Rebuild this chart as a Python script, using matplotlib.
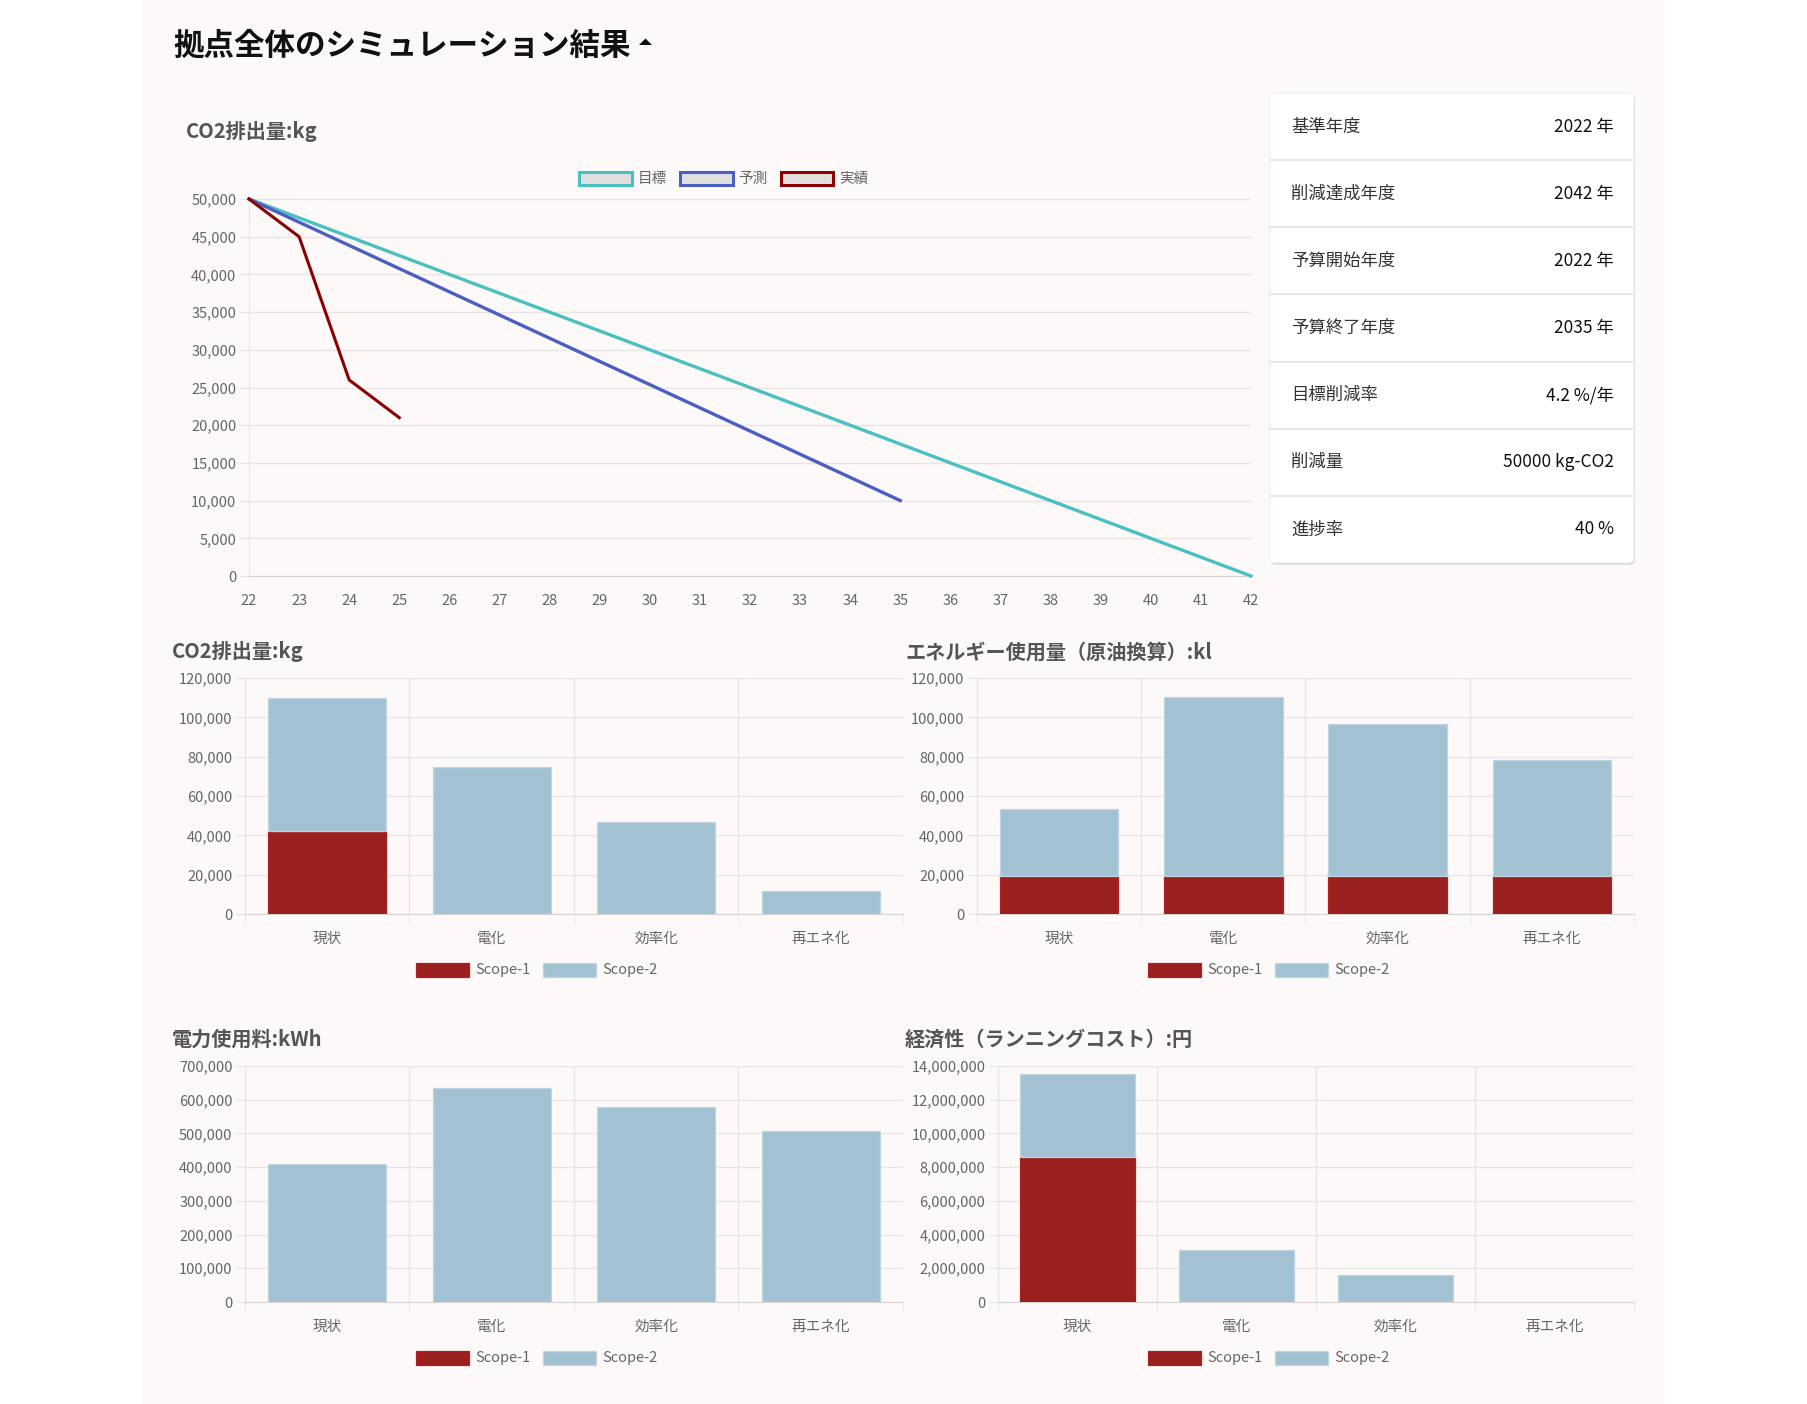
import matplotlib
matplotlib.use("Agg")
import matplotlib.pyplot as plt
import numpy as np
from matplotlib.patches import Rectangle, FancyBboxPatch, Patch, Polygon
from matplotlib.ticker import FuncFormatter, FixedLocator

plt.rcParams['font.family'] = ['Noto Sans CJK JP', 'DejaVu Sans']

# ---- data ----
target_years = [22, 42]
target_vals = [50000, 0]
forecast_years = [22, 35]
forecast_vals = [50000, 10000]
actual_years = [22, 23, 24, 25]
actual_vals = [50000, 45000, 26000, 21000]

table_labels = ['基準年度', '削減達成年度', '予算開始年度', '予算終了年度', '目標削減率', '削減量', '進捗率']
table_values = ['2022 年', '2042 年', '2022 年', '2035 年', '4.2 %/年', '50000 kg-CO2', '40 %']

categories = ['現状', '電化', '効率化', '再エネ化']
co2_s1 = [42000, 0, 0, 0]
co2_s2 = [68000, 75000, 47000, 11500]
energy_s1 = [19500, 19500, 19500, 19500]
energy_s2 = [34000, 91000, 77000, 59000]
kwh_s1 = [0, 0, 0, 0]
kwh_s2 = [408000, 634000, 577000, 506000]
cost_s1 = [8600000, 0, 0, 0]
cost_s2 = [4900000, 3070000, 1600000, 0]

# ---- layout helpers ----
W, H = 1808, 1404
def box(l, t, r, b):
    return [l / W, 1 - b / H, (r - l) / W, (b - t) / H]

def fx(x):
    return x / W

def fy(y):
    return 1 - y / H

GRID = '#e8e5e5'
ZERO = '#d6d3d3'
TICK = '#666666'
TITLE = '#555555'
S1 = '#9a201f'
S1_EDGE = '#b0201f'
S2 = '#a2c2d3'
S2_EDGE = '#c0d6e2'

fig = plt.figure(figsize=(W / 100, H / 100), dpi=100)
fig.patch.set_facecolor('white')
fig.patches.append(Rectangle((fx(142), 0), fx(1664) - fx(142), 1, transform=fig.transFigure,
                             facecolor='#fcf9f8', edgecolor='none', zorder=-10))

# page title + collapse caret
fig.text(fx(173), fy(46), '拠点全体のシミュレーション結果', fontsize=22, fontweight='bold',
         color='#111111', va='center', ha='left')
fig.patches.append(Polygon([(fx(639), fy(45)), (fx(652), fy(45)), (fx(645.5), fy(38.5))], closed=True,
                           transform=fig.transFigure, facecolor='#111111', edgecolor='none'))

fmt = FuncFormatter(lambda v, p: '{:,.0f}'.format(v))

# ---- line chart ----
fig.text(fx(186), fy(132), 'CO2排出量:kg', fontsize=14.5, fontweight='bold', color=TITLE,
         va='center', ha='left')
ax = fig.add_axes(box(249, 199, 1251, 576))
ax.set_facecolor('none')
ax.plot(target_years, target_vals, color='#4bc0c0', lw=2.4, clip_on=False, label='目標', zorder=3)
ax.plot(forecast_years, forecast_vals, color='#4a5fc1', lw=2.4, clip_on=False, label='予測', zorder=3)
ax.plot(actual_years, actual_vals, color='#8b0000', lw=2.2, clip_on=False, label='実績', zorder=4)
ax.set_xlim(22, 42)
ax.set_ylim(0, 50000)
ax.set_xticks(range(22, 43))
ax.set_yticks(range(0, 50001, 5000))
ax.yaxis.set_major_formatter(fmt)
ax.yaxis.grid(True, color=GRID, lw=1)
ax.set_axisbelow(True)
for s in ['top', 'right']:
    ax.spines[s].set_visible(False)
ax.spines['left'].set_color(GRID)
ax.spines['bottom'].set_color(ZERO)
ax.tick_params(axis='y', length=6.5, color=GRID, pad=2.5, labelsize=10.5, labelcolor=TICK)
ax.tick_params(axis='x', length=0, pad=13, labelsize=10.5, labelcolor=TICK)

line_handles = [Patch(facecolor='#e2dfdf', edgecolor=c, lw=2.2) for c in ['#4bc0c0', '#4a5fc1', '#8b0000']]
leg = fig.legend(line_handles, ['目標', '予測', '実績'], loc='center', bbox_to_anchor=(fx(724), fy(179)),
                 ncol=3, frameon=False, fontsize=10.5, handlelength=3.6, handleheight=1.0,
                 handletextpad=0.4, columnspacing=0.9, labelcolor=TICK)

# ---- info card ----
cl, ct, cr, cb = 1270, 93, 1634, 563
fig.patches.append(FancyBboxPatch((fx(cl) + 0.0005, fy(cb) - 0.0012), fx(cr) - fx(cl), fy(ct) - fy(cb),
                                  boxstyle='round,pad=0,rounding_size=0.003', transform=fig.transFigure,
                                  facecolor='#d9d6d6', edgecolor='none', zorder=1))
fig.patches.append(FancyBboxPatch((fx(cl), fy(cb)), fx(cr) - fx(cl), fy(ct) - fy(cb),
                                  boxstyle='round,pad=0,rounding_size=0.003', transform=fig.transFigure,
                                  facecolor='white', edgecolor='#eeeaea', lw=0.6, zorder=2))
row_h = (cb - ct) / len(table_labels)
for i, (lab, val) in enumerate(zip(table_labels, table_values)):
    yc = ct + row_h * (i + 0.5)
    fig.text(fx(1291), fy(yc), lab, fontsize=12.5, color='#333333', va='center', ha='left', zorder=5)
    fig.text(fx(1614), fy(yc), val, fontsize=12.5, color='#111111', va='center', ha='right', zorder=5)
    if i > 0:
        ys = ct + row_h * i
        fig.add_artist(plt.Line2D([fx(cl), fx(cr)], [fy(ys), fy(ys)], transform=fig.transFigure,
                                  color='#e4e1e1', lw=1.2, zorder=4))


# ---- bar charts ----
def bar_chart(title, rect, s1, s2, ymax, step, title_x, title_y, legend_x, legend_y):
    fig.text(fx(title_x), fy(title_y), title, fontsize=14.5, fontweight='bold', color=TITLE,
             va='center', ha='left')
    a = fig.add_axes(box(*rect))
    a.set_facecolor('none')
    x = np.arange(len(categories))
    lw1 = [0.9 if v else 0 for v in s1]
    lw2 = [0.9 if v else 0 for v in s2]
    a.bar(x, s1, width=0.72, color=S1, edgecolor=S1_EDGE, linewidth=lw1, zorder=3)
    a.bar(x, s2, width=0.72, bottom=s1, color=S2, edgecolor=S2_EDGE, linewidth=lw2, zorder=3)
    a.set_xlim(-0.5, len(categories) - 0.5)
    a.set_ylim(0, ymax)
    a.set_yticks(np.arange(0, ymax + 1, step))
    a.yaxis.set_major_formatter(fmt)
    a.set_xticks(x)
    a.set_xticklabels(categories)
    a.xaxis.set_minor_locator(FixedLocator(np.arange(-0.5, len(categories), 1.0)))
    a.yaxis.grid(True, color=GRID, lw=1)
    a.xaxis.grid(True, which='minor', color=GRID, lw=1)
    a.set_axisbelow(True)
    a.spines['top'].set_visible(False)
    a.spines['right'].set_visible(False)
    a.spines['left'].set_color(GRID)
    a.spines['bottom'].set_color(ZERO)
    a.tick_params(axis='y', length=6.5, color=GRID, pad=2.5, labelsize=10.5, labelcolor=TICK)
    a.tick_params(axis='x', which='major', length=0, pad=12.5, labelsize=10.5, labelcolor=TICK)
    a.tick_params(axis='x', which='minor', length=7, color=GRID)
    handles = [Patch(facecolor=S1, edgecolor=S1_EDGE, lw=0.9), Patch(facecolor=S2, edgecolor=S2_EDGE, lw=0.9)]
    fig.legend(handles, ['Scope-1', 'Scope-2'], loc='center', bbox_to_anchor=(fx(legend_x), fy(legend_y)),
               ncol=2, frameon=False, fontsize=10.5, handlelength=3.6, handleheight=1.1,
               handletextpad=0.45, columnspacing=0.85, labelcolor=TICK)
    return a


bar_chart('CO2排出量:kg', (245, 678, 903, 914), co2_s1, co2_s2, 120000, 20000, 172, 652, 537, 970)
bar_chart('エネルギー使用量（原油換算）:kl', (977, 678, 1634, 914), energy_s1, energy_s2, 120000, 20000,
          905, 652, 1269, 970)
bar_chart('電力使用料:kWh', (245, 1066, 903, 1302), kwh_s1, kwh_s2, 700000, 100000, 172, 1039, 537, 1358)
bar_chart('経済性（ランニングコスト）:円', (998, 1066, 1634, 1302), cost_s1, cost_s2, 14000000, 2000000,
          905, 1039, 1269, 1358)

fig.savefig('out.png', dpi=100, facecolor=fig.get_facecolor())
